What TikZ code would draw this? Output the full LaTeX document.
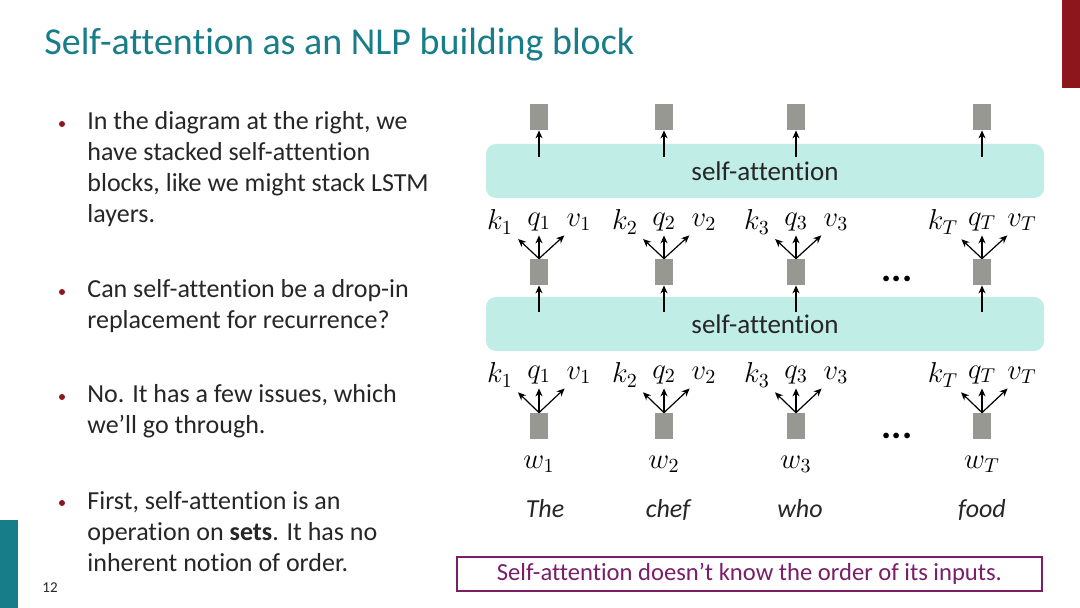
\documentclass[tikz,border=0pt]{standalone}
\usepackage{fontspec}
\setmainfont[Ligatures=NoCommon]{Carlito}
\usepackage{tikz}
\usepackage{xcolor}
\definecolor{SlideTeal}{RGB}{23, 126, 137}
\definecolor{SlideRed}{RGB}{140, 22, 28}
\definecolor{AttnCyan}{RGB}{192, 237, 230}
\definecolor{VecGray}{RGB}{152, 152, 146}
\definecolor{NotePurple}{RGB}{122, 30, 104}
\definecolor{BodyGray}{RGB}{38, 38, 38}
\usetikzlibrary{arrows.meta, positioning}

\begin{document}
\begin{tikzpicture}[
        x=0.5pt, y=-0.5pt,
        vec/.style={rectangle, fill=VecGray, minimum width=9pt, minimum height=13pt, inner sep=0pt},
        attn/.style={rectangle, fill=AttnCyan, rounded corners=5pt, minimum width=279pt, minimum height=27pt, inner sep=0pt, text=BodyGray, font=\fontsize{13.5}{14}\selectfont},
        lab/.style={inner sep=1pt, font=\fontsize{14}{14}\selectfont},
        word/.style={anchor=base, inner sep=1pt, text=BodyGray, font=\fontsize{13}{14}\selectfont\itshape},
        dot/.style={circle, fill=SlideRed, minimum size=3pt, inner sep=0pt},
        para/.style={anchor=base west, inner sep=0pt, align=left, text=BodyGray, font=\fontsize{13}{15.5}\selectfont},
        note/.style={rectangle, draw=NotePurple, line width=0.6pt, text=NotePurple, minimum width=292.5pt, minimum height=17pt, inner sep=0pt, font=\fontsize{12.3}{14}\selectfont},
        arrow/.style={-{Stealth[length=4pt, width=3.5pt]}, line width=0.6pt, black, shorten >=2pt}
    ]

        % Page
        \fill[white] (0,0) rectangle (1080,608);
        \useasboundingbox (0,0) rectangle (1080,608);
        \fill[SlideRed] (1062,0) rectangle (1080,88);
        \fill[SlideTeal] (0,520) rectangle (18,608);
        \node[anchor=base west, inner sep=0pt, text=SlideTeal, font=\fontsize{19}{22}\selectfont] (title) at (44,55) {Self-attention as an NLP building block};
        \node[inner sep=0pt, text=BodyGray, font=\fontsize{7.5}{9}\selectfont] (page) at (50,588) {12};

        % Bullets (anchored on the last line)
        \node[dot] (d1) at (62,124) {};
        \node[para] (p1) at (87,223) {In the diagram at the right, we\\ have stacked self-attention\\ blocks, like we might stack LSTM\\ layers.};
        \node[dot] (d2) at (62,292) {};
        \node[para] (p2) at (87,329) {Can self-attention be a drop-in\\ replacement for recurrence?};
        \node[dot] (d3) at (62,397) {};
        \node[para] (p3) at (87,434) {No. It has a few issues, which\\ we’ll go through.};
        \node[dot] (d4) at (62,503) {};
        \node[para] (p4) at (87,571) {First, self-attention is an\\ operation on \textbf{sets}. It has no\\ inherent notion of order.};

        % Nodes
        \node[attn] (sa2) at (765,171) {self-attention};
        \node[attn] (sa1) at (765,324) {self-attention};
        \node[inner sep=0pt, font=\fontsize{19}{19}\selectfont\bfseries] (dotsa) at (897,279) {...};
        \node[inner sep=0pt, font=\fontsize{19}{19}\selectfont\bfseries] (dotsb) at (897,436) {...};
        \node[note] (note) at (749.5,574) {Self-attention doesn’t know the order of its inputs.};

        \foreach \c/\x/\w/\dx in {1/539/The/6, 2/664/chef/4, 3/796/who/4, T/982/food/0} {
            \node[vec] (o\c) at (\x,117) {};
            \node[vec] (h\c) at (\x,272) {};
            \node[vec] (e\c) at (\x,426) {};
            \node[lab] (ka\c) at (\x-39,222) {$k_\c$};
            \node[lab] (qa\c) at (\x,222) {$q_\c$};
            \node[lab] (va\c) at (\x+40,222) {$v_\c$};
            \node[lab] (kb\c) at (\x-39,375) {$k_\c$};
            \node[lab] (qb\c) at (\x,375) {$q_\c$};
            \node[lab] (vb\c) at (\x+40,375) {$v_\c$};
            \node[lab] (w\c) at (\x,464) {$w_\c$};
            \node[word] (t\c) at (\x+\dx,517) {\w};

            % Connections
            \draw[arrow, shorten >=0pt] ([yshift=-6.5pt]o\c |- sa2.north) -- (o\c.south);
            \draw[arrow, shorten >=0pt] ([yshift=-7.5pt]h\c |- sa1.north) -- (h\c.south);
            \draw[arrow] (h\c.north) -- (ka\c);
            \draw[arrow, shorten >=1pt] (h\c.north) -- (qa\c);
            \draw[arrow] (h\c.north) -- (va\c);
            \draw[arrow] (e\c.north) -- (kb\c);
            \draw[arrow, shorten >=1pt] (e\c.north) -- (qb\c);
            \draw[arrow] (e\c.north) -- (vb\c);
        }

    \end{tikzpicture}
\end{document}
